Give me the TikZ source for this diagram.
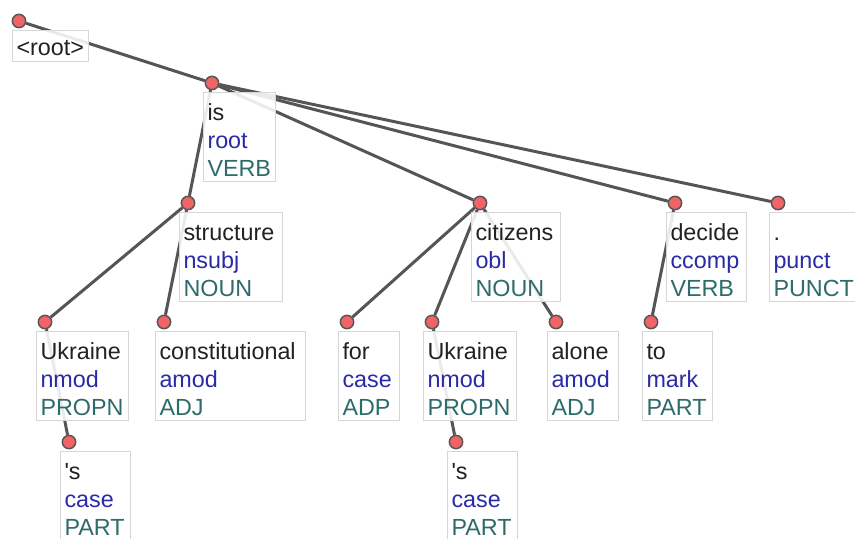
\documentclass[tikz,border=0pt]{standalone}
\usepackage{fontspec}
\setmainfont{Liberation Sans}
\definecolor{edgec}{HTML}{555555}
\definecolor{dotc}{HTML}{F06466}
\definecolor{wordc}{HTML}{222222}
\definecolor{relc}{HTML}{2A2AA8}
\definecolor{posc}{HTML}{2E6B6B}
\definecolor{boxc}{HTML}{D6D6D6}
\pgfdeclarelayer{edgelayer}
\pgfsetlayers{edgelayer,main}
\tikzset{
  tokbox/.style={draw=boxc, line width=0.75pt, fill=white, fill opacity=0.88,
    text opacity=1, inner xsep=3pt, inner ysep=0pt, anchor=north west,
    align=left, font=\fontsize{17.5}{21}\selectfont},
  tokdot/.style={circle, draw=edgec, fill=dotc, line width=1.1pt,
    minimum size=10pt, inner sep=0pt},
  arc/.style={draw=edgec, line width=2.25pt},
}
% \deptok{name}{box x}{box y}{box width}{word}{relation}{tag}, all in px
\newcommand\deptok[7]{%
  \pgfmathsetmacro\toktw{(#4-8)*0.75}%
  \pgfmathsetmacro\tokdx{#2+9}%
  \pgfmathsetmacro\tokdy{#3-9}%
  \node[tokbox, text width=\toktw pt] (#1b) at (#2,#3)
    {\textcolor{wordc}{\rule{0pt}{21pt}#5}\\\textcolor{relc}{#6}\\%
     \textcolor{posc}{#7\rule[-3.75pt]{0pt}{3.75pt}}};
  \node[tokdot] (#1) at (\tokdx,\tokdy) {};
}
\begin{document}
\begin{tikzpicture}[x=0.75pt,y=-0.75pt]
  \useasboundingbox (0,0) rectangle (855,538);
  \clip (0,0) rectangle (855,538);

  % root token
  \node[tokbox, text width=51pt] (rootb) at (12,30)
    {\textcolor{wordc}{\rule[-4.5pt]{0pt}{23.25pt}<root>}};
  \node[tokdot] (root) at (19,21) {};

  % tokens
  \deptok{is}{203}{92}{72}{is}{root}{VERB}
  \deptok{structure}{179}{212}{103}{structure}{nsubj}{NOUN}
  \deptok{citizens}{471}{212}{89}{citizens}{obl}{NOUN}
  \deptok{decide}{666}{212}{80}{decide}{ccomp}{VERB}
  \deptok{punct}{769}{212}{90}{.}{punct}{PUNCT}
  \deptok{ukra}{36}{331}{92}{Ukraine}{nmod}{PROPN}
  \deptok{constit}{155}{331}{150}{constitutional}{amod}{ADJ}
  \deptok{for}{338}{331}{61}{for}{case}{ADP}
  \deptok{ukrb}{423}{331}{93}{Ukraine}{nmod}{PROPN}
  \deptok{alone}{547}{331}{71}{alone}{amod}{ADJ}
  \deptok{to}{642}{331}{70}{to}{mark}{PART}
  \deptok{possa}{60}{451}{70}{\textquotesingle s}{case}{PART}
  \deptok{possb}{447}{451}{70}{\textquotesingle s}{case}{PART}

  % dependency arcs, behind the boxes
  \begin{pgfonlayer}{edgelayer}
    \draw[arc] (root) -- (is);
    \draw[arc] (is) -- (structure);
    \draw[arc] (is) -- (citizens);
    \draw[arc] (is) -- (decide);
    \draw[arc] (is) -- (punct);
    \draw[arc] (structure) -- (ukra);
    \draw[arc] (structure) -- (constit);
    \draw[arc] (ukra) -- (possa);
    \draw[arc] (citizens) -- (for);
    \draw[arc] (citizens) -- (ukrb);
    \draw[arc] (citizens) -- (alone);
    \draw[arc] (ukrb) -- (possb);
    \draw[arc] (decide) -- (to);
  \end{pgfonlayer}
\end{tikzpicture}
\end{document}
